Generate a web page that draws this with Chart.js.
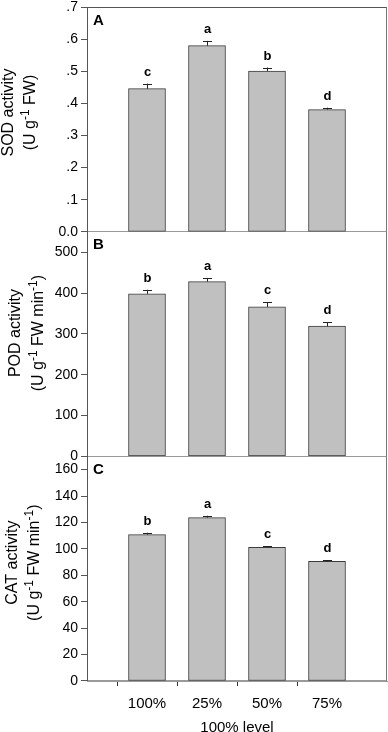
<!DOCTYPE html>
<html>
<head>
<meta charset="utf-8">
<script src="https://cdn.jsdelivr.net/npm/chart.js@4.4.0/dist/chart.umd.min.js"></script>
<style>
  html, body { margin: 0; padding: 0; background: #fff; }
  #wrap { position: relative; width: 388px; height: 732px; }
</style>
</head>
<body>
<div id="wrap"><canvas id="chart" width="388" height="732"></canvas></div>
<script>
/* categories on the x axis */
var categories = ['100%', '25%', '50%', '75%'];
var xTitle = '100% level';

/* panel A - SOD */
var sodValues = [0.446, 0.580, 0.501, 0.381];
var sodErrors = [0.016, 0.015, 0.011, 0.006];
var sodLetters = ['c', 'a', 'b', 'd'];
var sodTicks = ['0.0', '.1', '.2', '.3', '.4', '.5', '.6', '.7'];

/* panel B - POD */
var podValues = [398, 428, 366, 319];
var podErrors = [10, 9, 11, 10];
var podLetters = ['b', 'a', 'c', 'd'];
var podTicks = ['0', '100', '200', '300', '400', '500'];

/* panel C - CAT */
var catValues = [110.8, 123.6, 101.1, 90.5];
var catErrors = [1.4, 1.5, 0.8, 1.0];
var catLetters = ['b', 'a', 'c', 'd'];
var catTicks = ['0', '20', '40', '60', '80', '100', '120', '140', '160'];

Chart.defaults.font.family = "'Liberation Sans', Arial, sans-serif";
Chart.defaults.color = '#000';

/* empty slot at both ends of the x axis */
var xLabels = [''].concat(categories, ['']);
function pad(arr) { return [null].concat(arr, [null]); }

var panels = [
    { id: 'ySOD', name: 'A', values: sodValues, errors: sodErrors, letters: sodLetters,
      ticks: sodTicks, max: 0.7, titleX: [12.5, 35], titleDy: -7,
      title: [[{ t: 'SOD activity' }], [{ t: '(U g' }, { t: '-1', sup: true }, { t: ' FW)' }]] },
    { id: 'yPOD', name: 'B', values: podValues, errors: podErrors, letters: podLetters,
      ticks: podTicks, max: 550, titleX: [20, 42.5], titleDy: -11,
      title: [[{ t: 'POD activity' }], [{ t: '(U g' }, { t: '-1', sup: true }, { t: ' FW min' }, { t: '-1', sup: true }, { t: ')' }]] },
    { id: 'yCAT', name: 'C', values: catValues, errors: catErrors, letters: catLetters,
      ticks: catTicks, max: 170, titleX: [17, 39], titleDy: -6,
      title: [[{ t: 'CAT activity' }], [{ t: '(U g' }, { t: '-1', sup: true }, { t: ' FW min' }, { t: '-1', sup: true }, { t: ')' }]] }
];

function makeYScale(p) {
    return {
        type: 'linear',
        position: 'left',
        stack: 'panels',
        stackWeight: 1,
        min: 0,
        max: p.max,
        afterBuildTicks: function (s) {
            s.ticks = p.ticks.map(function (t) { return { value: parseFloat(t) }; });
        },
        afterFit: function (s) { s.width = 87; },
        ticks: {
            callback: function (v, i) { return p.ticks[i]; },
            font: { size: 14, lineHeight: 0.6 },
            color: '#000',
            padding: 3
        },
        grid: {
            drawOnChartArea: true,
            color: function (ctx) { return ctx.tick && ctx.tick.value === 0 ? '#9a9a9a' : 'rgba(0,0,0,0)'; },
            tickLength: 6,
            tickColor: '#555'
        },
        border: { display: true, color: '#555', width: 1 }
    };
}

var scales = {
    x: {
        type: 'category',
        labels: xLabels,
        offset: false,
        afterFit: function (s) {
            s.height = 51;
            s.paddingLeft = 0;
            s.paddingRight = 0;
        },
        grid: {
            drawOnChartArea: false,
            drawTicks: true,
            tickLength: 5,
            tickColor: function (ctx) { return xLabels[ctx.index] ? '#333' : 'rgba(0,0,0,0)'; }
        },
        border: { display: true, color: '#9a9a9a' },
        ticks: { autoSkip: false, maxRotation: 0, font: { size: 15 }, color: '#000', padding: 9 },
        title: { display: true, text: xTitle, font: { size: 15 }, color: '#000', padding: { top: 0, bottom: -5 } }
    }
};
/* last defined stacked axis goes on top, so add C first */
for (var k = panels.length - 1; k >= 0; k--) {
    scales[panels[k].id] = makeYScale(panels[k]);
}

var datasets = panels.map(function (p) {
    return {
        label: p.name,
        data: pad(p.values),
        yAxisID: p.id,
        backgroundColor: '#c0c0c0',
        borderColor: '#3c3c3c',
        borderWidth: 1,
        borderSkipped: false,
        barThickness: 37,
        grouped: false
    };
});

/* error bars, significance letters, panel letters, y titles and frame */
var decorations = {
    id: 'decorations',
    afterDatasetsDraw: function (chart) {
        var ctx = chart.ctx;
        var area = chart.chartArea;
        ctx.save();
        panels.forEach(function (p, di) {
            var meta = chart.getDatasetMeta(di);
            var ys = chart.scales[p.id];
            meta.data.forEach(function (bar, i) {
                var v = chart.data.datasets[di].data[i];
                if (v === null) return;
                var j = i - 1;
                var yTop = ys.getPixelForValue(p.values[j] + p.errors[j]);
                ctx.strokeStyle = '#222';
                ctx.lineWidth = 1;
                ctx.beginPath();
                ctx.moveTo(Math.round(bar.x) + 0.5, bar.y);
                ctx.lineTo(Math.round(bar.x) + 0.5, yTop);
                ctx.moveTo(Math.round(bar.x) - 4, Math.round(yTop) + 0.5);
                ctx.lineTo(Math.round(bar.x) + 5, Math.round(yTop) + 0.5);
                ctx.stroke();

                ctx.fillStyle = '#000';
                ctx.font = 'bold 13px "Liberation Sans", Arial, sans-serif';
                ctx.textAlign = 'center';
                ctx.textBaseline = 'alphabetic';
                ctx.fillText(p.letters[j], bar.x + 0.5, yTop - 8);
            });

            /* panel letter */
            ctx.fillStyle = '#000';
            ctx.font = 'bold 15px "Liberation Sans", Arial, sans-serif';
            ctx.textAlign = 'left';
            ctx.textBaseline = 'alphabetic';
            ctx.fillText(p.name, area.left + 6, ys.top + 17.5);

            /* rotated y title with superscripts */
            var cy = (ys.top + ys.bottom) / 2 + p.titleDy;
            p.title.forEach(function (parts, li) {
                var total = 0;
                parts.forEach(function (s) {
                    ctx.font = (s.sup ? '12px' : '16px') + ' "Liberation Sans", Arial, sans-serif';
                    s.w = ctx.measureText(s.t).width;
                    total += s.w;
                });
                ctx.save();
                ctx.translate(p.titleX[li], cy);
                ctx.rotate(-Math.PI / 2);
                ctx.textAlign = 'left';
                ctx.textBaseline = 'alphabetic';
                var cx = -total / 2;
                parts.forEach(function (s) {
                    ctx.font = (s.sup ? '12px' : '16px') + ' "Liberation Sans", Arial, sans-serif';
                    ctx.fillText(s.t, cx, s.sup ? -6 : 0);
                    cx += s.w;
                });
                ctx.restore();
            });
        });

        /* frame: top and right */
        ctx.strokeStyle = '#555';
        ctx.lineWidth = 1;
        ctx.beginPath();
        ctx.moveTo(area.left, Math.round(area.top) + 0.5);
        ctx.lineTo(area.right, Math.round(area.top) + 0.5);
        ctx.stroke();
        ctx.strokeStyle = '#777';
        ctx.beginPath();
        ctx.moveTo(Math.round(area.right) - 0.5, area.top);
        ctx.lineTo(Math.round(area.right) - 0.5, area.bottom);
        ctx.stroke();
        ctx.restore();
    }
};

var ctx = document.getElementById('chart').getContext('2d');
new Chart(ctx, {
    type: 'bar',
    data: { labels: xLabels, datasets: datasets },
    options: {
        responsive: false,
        animation: false,
        layout: { padding: { top: 5, right: 1, left: 0, bottom: 0 } },
        plugins: { legend: { display: false }, tooltip: { enabled: false } },
        scales: scales
    },
    plugins: [decorations]
});
</script>
</body>
</html>
